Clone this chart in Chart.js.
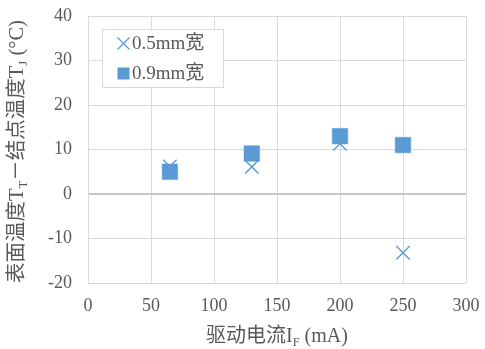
<!DOCTYPE html>
<html>
<head>
<meta charset="utf-8">
<script src="https://cdn.jsdelivr.net/npm/chart.js@4.4.1/dist/chart.umd.min.js"></script>
<style>
  html, body { margin: 0; padding: 0; background: #fff; }
  #wrap { width: 485px; height: 349px; }
</style>
</head>
<body>
<div id="wrap"><canvas id="tempChart" width="485" height="349"></canvas></div>
<script>
// values
const xTicks = [0, 50, 100, 150, 200, 250, 300];
const yTicks = [-20, -10, 0, 10, 20, 30, 40];
const yMinor = [-15, -5, 5, 15, 25, 35];
const current05 = [65, 130, 200, 250];
const delta05 = [6.2, 6.1, 11.3, -13.2];
const current09 = [65, 130, 200, 250];
const delta09 = [5.0, 9.1, 13.0, 11.0];
const seriesNames = ['0.5mm宽', '0.9mm宽'];

const FONT = '"Liberation Serif", "Noto Sans CJK SC", serif';
const BLUE = '#5b9bd5';
const TEXT = '#595959';

// draw a row of text pieces, some of them as subscripts
function drawRich(ctx, parts, cx, cy, size) {
    let total = 0;
    parts.forEach(p => {
        ctx.font = (p.sub ? size * 0.62 : size) + 'px ' + FONT;
        p.w = ctx.measureText(p.t).width;
        total += p.w;
    });
    let x = cx - total / 2;
    parts.forEach(p => {
        ctx.font = (p.sub ? size * 0.62 : size) + 'px ' + FONT;
        ctx.fillText(p.t, x, cy + (p.sub ? size * 0.28 : 0));
        x += p.w;
    });
}

const extras = {
    id: 'extras',
    afterDraw(chart) {
        const ctx = chart.ctx;
        const area = chart.chartArea;
        ctx.save();
        ctx.fillStyle = TEXT;
        ctx.textBaseline = 'middle';
        ctx.textAlign = 'left';

        // x axis title
        drawRich(ctx, [
            { t: '驱动电流' }, { t: 'I' }, { t: 'F', sub: true }, { t: ' (mA)' }
        ], (area.left + area.right) / 2, 337, 20);

        // y axis title, rotated
        ctx.save();
        ctx.translate(18, (area.top + area.bottom) / 2 + 2);
        ctx.rotate(-Math.PI / 2);
        drawRich(ctx, [
            { t: '表面温度' }, { t: 'T' }, { t: 'T', sub: true }, { t: '－结点温度' },
            { t: 'T' }, { t: 'J', sub: true }, { t: ' (°C)' }
        ], 0, 0, 20.5);
        ctx.restore();

        // legend box inside the plot
        const lx = 102, ly = 29, lw = 121, lh = 58;
        ctx.fillStyle = '#fff';
        ctx.fillRect(lx, ly, lw, lh);
        ctx.strokeStyle = '#d9d9d9';
        ctx.lineWidth = 1;
        ctx.strokeRect(lx + 0.5, ly + 0.5, lw, lh);

        ctx.strokeStyle = BLUE;
        ctx.lineWidth = 1.3;
        ctx.beginPath();
        ctx.moveTo(117.5, 37.5); ctx.lineTo(129.5, 49.5);
        ctx.moveTo(129.5, 37.5); ctx.lineTo(117.5, 49.5);
        ctx.stroke();
        ctx.fillStyle = BLUE;
        ctx.fillRect(117.5, 67.5, 12, 12);

        ctx.fillStyle = TEXT;
        ctx.font = '19px ' + FONT;
        ctx.fillText(seriesNames[0], 132, 44);
        ctx.fillText(seriesNames[1], 132, 74);
        ctx.restore();
    }
};

const ctx = document.getElementById('tempChart').getContext('2d');
const tempChart = new Chart(ctx, {
    type: 'scatter',
    data: {
        datasets: [{
            label: seriesNames[0],
            data: current05.map((x, i) => ({ x: x, y: delta05[i] })),
            pointStyle: 'crossRot',
            radius: 9.5,
            borderColor: BLUE,
            borderWidth: 1.4,
            order: 1
        }, {
            label: seriesNames[1],
            data: current09.map((x, i) => ({ x: x, y: delta09[i] })),
            pointStyle: 'rect',
            radius: 11,
            backgroundColor: BLUE,
            borderColor: BLUE,
            borderWidth: 0.5,
            order: 0
        }]
    },
    options: {
        responsive: false,
        animation: false,
        layout: { padding: { top: 16, right: 19, left: 0, bottom: 0 } },
        plugins: { legend: { display: false }, tooltip: { enabled: false } },
        elements: { point: { hoverRadius: 9.5 } },
        scales: {
            x: {
                type: 'linear',
                min: 0, max: 300,
                afterBuildTicks: s => { s.ticks = xTicks.map(v => ({ value: v })); },
                afterFit: s => { s.height = 66; s.paddingLeft = 0; s.paddingRight = 0; },
                grid: { color: '#d9d9d9', drawTicks: false },
                border: { display: false },
                ticks: { padding: 12, color: TEXT, font: { family: FONT, size: 18 }, maxRotation: 0 }
            },
            y: {
                type: 'linear',
                min: -20, max: 40,
                afterBuildTicks: s => {
                    s.ticks = yTicks.concat(yMinor).sort((a, b) => a - b).map(v => ({ value: v }));
                },
                afterFit: s => { s.width = 88; s.paddingTop = 0; s.paddingBottom = 0; },
                grid: {
                    drawTicks: false,
                    color: c => c.tick.value === 0 ? '#c6c6c6' : (yTicks.includes(c.tick.value) ? '#d9d9d9' : '#f2f2f2'),
                    lineWidth: c => c.tick.value === 0 ? 2 : 1
                },
                border: { display: true, color: '#d9d9d9' },
                ticks: {
                    padding: 16, color: TEXT, font: { family: FONT, size: 18 },
                    callback: v => yTicks.includes(v) ? v : ''
                }
            }
        }
    },
    plugins: [extras]
});
</script>
</body>
</html>
